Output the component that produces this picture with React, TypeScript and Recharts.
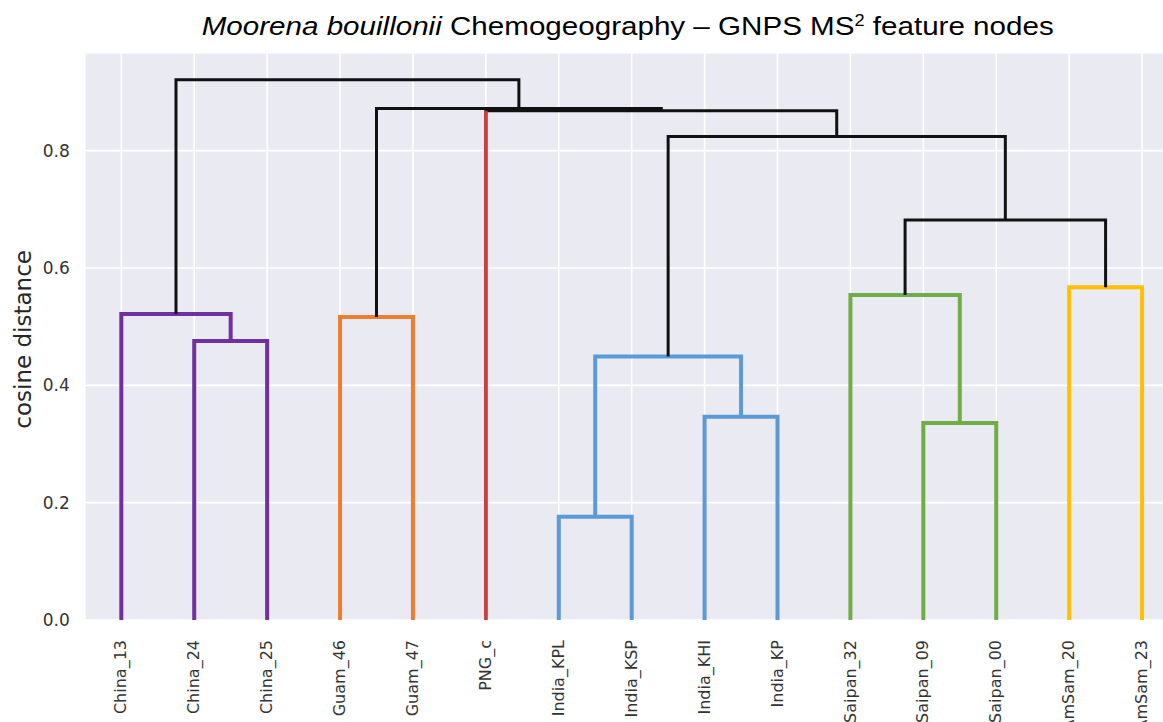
import React from 'react';
import { ComposedChart, Line, XAxis, YAxis, CartesianGrid } from 'recharts';

// ---------- data ----------
const leaves = [
  'China_13', 'China_24', 'China_25', 'Guam_46', 'Guam_47', 'PNG_c',
  'India_KPL', 'India_KSP', 'India_KHI', 'India_KP',
  'Saipan_32', 'Saipan_09', 'Saipan_00', 'AmSam_20', 'AmSam_23',
];

// linkage: each merge joins two nodes (leaf names or earlier merge ids) at a cosine distance
const merges = [
  { id: 'm0', a: 'China_24', b: 'China_25', h: 0.4755, group: 'China' },
  { id: 'm1', a: 'China_13', b: 'm0', h: 0.5216, group: 'China' },
  { id: 'm2', a: 'Guam_46', b: 'Guam_47', h: 0.5165, group: 'Guam' },
  { id: 'm3', a: 'India_KPL', b: 'India_KSP', h: 0.176, group: 'India' },
  { id: 'm4', a: 'India_KHI', b: 'India_KP', h: 0.3465, group: 'India' },
  { id: 'm5', a: 'm3', b: 'm4', h: 0.449, group: 'India' },
  { id: 'm6', a: 'Saipan_09', b: 'Saipan_00', h: 0.336, group: 'Saipan' },
  { id: 'm7', a: 'Saipan_32', b: 'm6', h: 0.554, group: 'Saipan' },
  { id: 'm8', a: 'AmSam_20', b: 'AmSam_23', h: 0.567, group: 'AmSam' },
  { id: 'm9', a: 'm7', b: 'm8', h: 0.682, group: 'link' },
  { id: 'm10', a: 'm5', b: 'm9', h: 0.824, group: 'link' },
  { id: 'm11', a: 'PNG_c', b: 'm10', h: 0.868, group: 'link' },
  { id: 'm12', a: 'm2', b: 'm11', h: 0.872, group: 'link' },
  { id: 'm13', a: 'm1', b: 'm12', h: 0.921, group: 'link' },
];

// singleton leaves whose stem is coloured as its own cluster
const stemOverrides = [{ leaf: 'PNG_c', group: 'PNG' }];

const yTicks = [0, 0.2, 0.4, 0.6, 0.8];
const yMax = 0.967;
const xTicks = leaves.map((_, i) => 5 + 10 * i);

// ---------- style ----------
const groupColor: Record<string, string> = {
  China: '#7030A0',
  Guam: '#ED7D31',
  PNG: '#CD3E3E',
  India: '#5B9BD5',
  Saipan: '#70AD47',
  AmSam: '#FFC000',
  link: '#111111',
};
const groupWidth: Record<string, number> = {
  China: 4, Guam: 4, PNG: 3.5, India: 4, Saipan: 4, AmSam: 4, link: 3,
};

type Pt = { x: number; y: number };
type Link = { id: string; group: string; points: Pt[] };

function buildLinks(): Link[] {
  const pos: Record<string, { x: number; h: number }> = {};
  leaves.forEach((n, i) => { pos[n] = { x: xTicks[i], h: 0 }; });
  const links: Link[] = merges.map((m) => {
    const a = pos[m.a];
    const b = pos[m.b];
    pos[m.id] = { x: (a.x + b.x) / 2, h: m.h };
    return {
      id: m.id,
      group: m.group,
      points: [
        { x: a.x, y: a.h },
        { x: a.x, y: m.h },
        { x: b.x, y: m.h },
        { x: b.x, y: b.h },
      ],
    };
  });
  const stems: Link[] = stemOverrides.map((s) => {
    const parent = merges.find((m) => m.a === s.leaf || m.b === s.leaf)!;
    const p = pos[s.leaf];
    return { id: 'stem-' + s.leaf, group: s.group, points: [{ x: p.x, y: 0 }, { x: p.x, y: parent.h }] };
  });
  return [...links, ...stems];
}

const links = buildLinks();

const LeafTick = (props: any) => {
  const { x, y, payload } = props;
  const idx = xTicks.indexOf(payload.value);
  return (
    <text
      x={x}
      y={y}
      transform={`rotate(-90 ${x} ${y})`}
      textAnchor="end"
      dy="0.32em"
      fontFamily="DejaVu Sans"
      fontSize={16}
      fill="#333333"
    >
      {leaves[idx]}
    </text>
  );
};

const YLabel = (props: any) => {
  const vb = props.viewBox || {};
  const cx = 23.5;
  const cy = (vb.y ?? 53) + (vb.height ?? 567) / 2 + 3;
  return (
    <text
      x={cx}
      y={cy}
      transform={`rotate(-90 ${cx} ${cy})`}
      textAnchor="middle"
      dominantBaseline="central"
      fontFamily="DejaVu Sans"
      fontSize={23}
      fill="#262626"
    >
      cosine distance
    </text>
  );
};

export default function App() {
  return (
    <div style={{ position: 'absolute', left: 0, top: 0, width: 1163, height: 722, overflow: 'hidden', background: '#ffffff' }}>
      <ComposedChart
        width={1200}
        height={722}
        margin={{ top: 52.7, right: 21.5, bottom: 2, left: 14.85 }}
      >
        <CartesianGrid fill="#EAEAF2" fillOpacity={1} stroke="#FFFFFF" strokeWidth={1.6} />
        <XAxis
          type="number"
          dataKey="x"
          domain={[0, 150]}
          ticks={xTicks}
          interval={0}
          axisLine={false}
          tickLine={false}
          tickSize={0}
          tickMargin={20}
          height={100}
          tick={LeafTick}
          allowDataOverflow
        />
        <YAxis
          type="number"
          dataKey="y"
          domain={[0, yMax]}
          ticks={yTicks}
          interval={0}
          axisLine={false}
          tickLine={false}
          tickSize={0}
          tickMargin={15}
          width={70}
          allowDataOverflow
          tickFormatter={(v: number) => v.toFixed(1)}
          tick={{ fontFamily: 'DejaVu Sans', fontSize: 17, fill: '#333333' }}
          label={{ content: YLabel }}
        />
        {links.map((l) => (
          <Line
            key={l.id}
            data={l.points}
            dataKey="y"
            type="linear"
            stroke={groupColor[l.group]}
            strokeWidth={groupWidth[l.group]}
            strokeLinejoin="miter"
            strokeLinecap="butt"
            dot={false}
            activeDot={false}
            isAnimationActive={false}
            legendType="none"
          />
        ))}
      </ComposedChart>
      <svg
        width={1163}
        height={50}
        style={{ position: 'absolute', left: 0, top: 0 }}
      >
        <text
          x={201.7}
          y={35}
          textLength={852}
          lengthAdjust="spacingAndGlyphs"
          fontFamily="'Liberation Sans', Arial, sans-serif"
          fontSize={26}
          fill="#000000"
        >
          <tspan fontStyle="italic">Moorena bouillonii</tspan>
          <tspan> Chemogeography – GNPS MS</tspan>
          <tspan dy={-9} fontSize={16}>2</tspan>
          <tspan dy={9}> feature nodes</tspan>
        </text>
      </svg>
    </div>
  );
}
